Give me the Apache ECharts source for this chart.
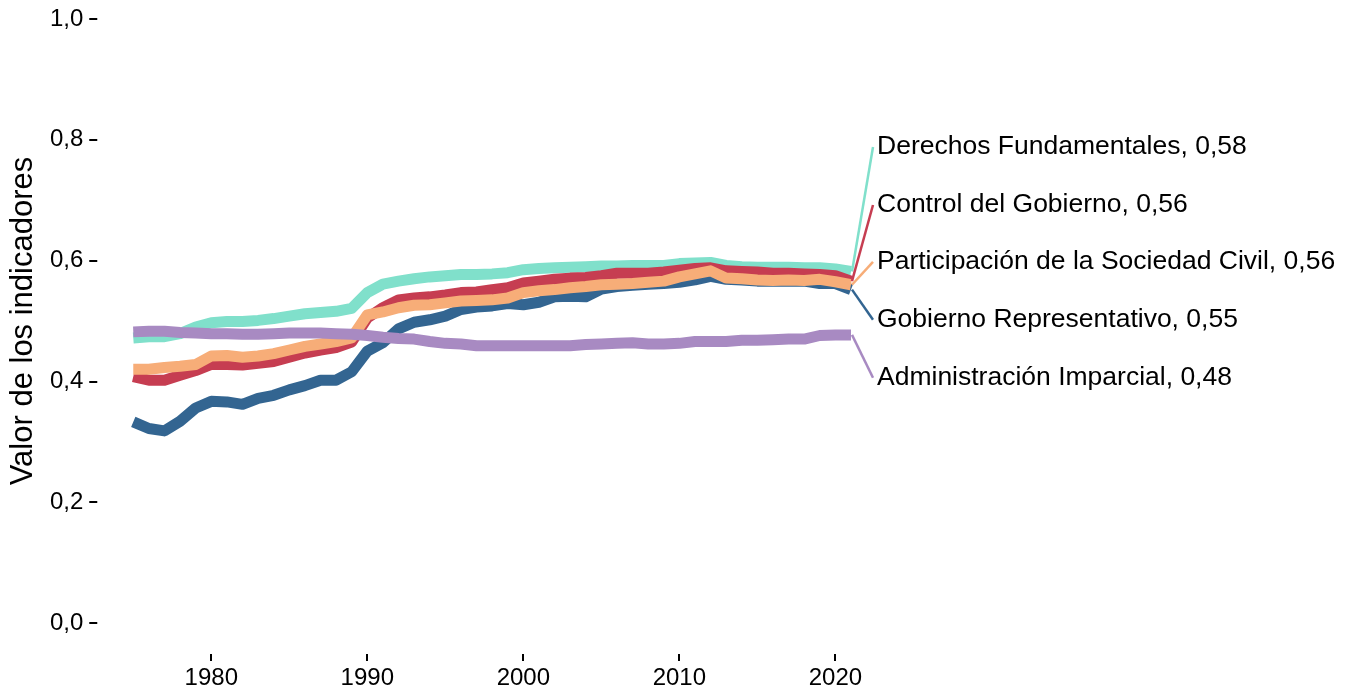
<!DOCTYPE html>
<html><head><meta charset="utf-8">
<script src="https://cdn.jsdelivr.net/npm/echarts@6/dist/echarts.min.js"></script>
<style>html,body{margin:0;padding:0;background:#fff}#c{width:1355px;height:692px}</style>
</head><body><div id="c"></div>
<script>
const years = [];
for (let y = 1975; y <= 2021; y++) years.push(y);

const seriesNames = ["Derechos Fundamentales","Gobierno Representativo","Control del Gobierno","Participación de la Sociedad Civil","Administración Imparcial"];
const seriesColors = ["#80e0cb","#336591","#c63d51","#f7ad78","#a88ac2"];

const derechosFundamentales = [0.472,0.474,0.474,0.479,0.490,0.497,0.499,0.499,0.501,0.504,0.508,0.512,0.514,0.516,0.521,0.547,0.561,0.566,0.570,0.573,0.575,0.577,0.577,0.578,0.580,0.585,0.587,0.588,0.589,0.590,0.591,0.591,0.592,0.592,0.592,0.595,0.596,0.597,0.592,0.590,0.589,0.589,0.589,0.588,0.588,0.586,0.582];
const gobiernoRepresentativo = [0.333,0.322,0.318,0.334,0.356,0.367,0.366,0.362,0.372,0.377,0.386,0.393,0.402,0.402,0.416,0.450,0.464,0.487,0.498,0.502,0.508,0.519,0.523,0.525,0.529,0.527,0.531,0.540,0.541,0.540,0.553,0.557,0.559,0.561,0.562,0.564,0.568,0.574,0.569,0.568,0.566,0.566,0.566,0.566,0.562,0.562,0.552];
const controlGobierno = [0.408,0.402,0.402,0.410,0.418,0.428,0.428,0.427,0.430,0.433,0.440,0.447,0.452,0.456,0.465,0.505,0.522,0.535,0.538,0.540,0.543,0.547,0.548,0.552,0.555,0.563,0.566,0.569,0.571,0.572,0.575,0.579,0.579,0.579,0.581,0.584,0.587,0.588,0.583,0.582,0.581,0.579,0.579,0.578,0.577,0.575,0.566];
const participacionSociedadCivil = [0.420,0.420,0.423,0.425,0.428,0.442,0.443,0.440,0.442,0.446,0.452,0.458,0.462,0.466,0.472,0.510,0.515,0.522,0.526,0.527,0.530,0.533,0.534,0.535,0.538,0.547,0.550,0.552,0.555,0.557,0.560,0.561,0.562,0.564,0.566,0.573,0.578,0.583,0.571,0.570,0.568,0.567,0.568,0.567,0.569,0.565,0.560];
const administracionImparcial = [0.482,0.483,0.483,0.481,0.480,0.479,0.479,0.478,0.478,0.479,0.480,0.480,0.480,0.479,0.478,0.476,0.473,0.471,0.470,0.466,0.463,0.462,0.459,0.459,0.459,0.459,0.459,0.459,0.459,0.461,0.462,0.463,0.464,0.462,0.462,0.463,0.466,0.466,0.466,0.468,0.468,0.469,0.470,0.470,0.476,0.477,0.477];
const seriesValues = [derechosFundamentales, gobiernoRepresentativo, controlGobierno, participacionSociedadCivil, administracionImparcial];

// end-label text values and their (repelled) label positions in data units
const endLabelValues = ["0,58","0,55","0,56","0,56","0,48"];
const labelAnchorsY = [0.788, 0.502, 0.692, 0.598, 0.406];

const xTicks = [1980,1990,2000,2010,2020];

const FONT = "'Liberation Sans', Arial, sans-serif";
const X_AXIS_OFFSET = 31;
const chart = echarts.init(document.getElementById('c'), null, {renderer:'canvas'});

const lineSeries = seriesNames.map((n,i)=>({
  name:n, type:'line', showSymbol:false, symbol:'none',
  xAxisIndex:0, yAxisIndex:0,
  data: years.map((y,j)=>[y, seriesValues[i][j]]),
  lineStyle:{color:seriesColors[i], width:11, cap:'butt', join:'round'},
  itemStyle:{color:seriesColors[i]},
  z: 2+i
}));

// x-axis tick marks drawn at the offset axis position
const tickSeries = {
  type:'custom', xAxisIndex:0, yAxisIndex:0, clip:false, silent:true, z:50,
  data: xTicks.map(t=>[t, 0]),
  renderItem:(params, api)=>{
    const p = api.coord([api.value(0), 0]);
    return {type:'rect', shape:{x:Math.round(p[0])-1, y:p[1]+X_AXIS_OFFSET, width:2, height:7},
      style:{fill:'#000'}};
  }
};

const option = {
  animation:false,
  backgroundColor:'#fff',
  grid:{left:133, right:504, top:19, bottom:69},
  xAxis:{
    type:'value', min:1975, max:2021, offset:X_AXIS_OFFSET,
    axisLine:{show:false, onZero:false}, splitLine:{show:false},
    axisTick:{show:false},
    axisLabel:{customValues:xTicks, fontSize:24, color:'#000', fontFamily:FONT, margin:12,
      formatter:v => String(v)}
  },
  yAxis:{
    type:'value', min:0, max:1, interval:0.2, offset:36,
    name:'Valor de los indicadores', nameLocation:'middle', nameGap:50,
    nameTextStyle:{fontSize:31, color:'#000', fontFamily:FONT},
    axisLine:{show:false, onZero:false}, splitLine:{show:false},
    axisTick:{show:true, length:8, lineStyle:{color:'#000', width:2}},
    axisLabel:{fontSize:24, color:'#000', fontFamily:FONT, margin:14,
      formatter:v => v.toFixed(1).replace('.', ',')}
  },
  series: lineSeries.concat([tickSeries])
};
chart.setOption(option);

const graphics = [];
seriesNames.forEach((n,i)=>{
  const vals = seriesValues[i];
  const end = chart.convertToPixel({xAxisIndex:0, yAxisIndex:0}, [years[years.length-1], vals[vals.length-1]]);
  const anchor = chart.convertToPixel({xAxisIndex:0, yAxisIndex:0}, [years[years.length-1], labelAnchorsY[i]]);
  const lx = end[0] + 22;
  graphics.push({type:'line', shape:{x1:end[0]+1, y1:end[1], x2:lx, y2:anchor[1]},
    style:{stroke:seriesColors[i], lineWidth:2.5}, z:100});
  graphics.push({type:'text', x:lx+4, y:anchor[1],
    style:{text:n+', '+endLabelValues[i], fill:'#000', font:'26.5px '+FONT, textVerticalAlign:'middle', textAlign:'left'}, z:100});
});
chart.setOption({graphic:graphics});
</script>
</body></html>
